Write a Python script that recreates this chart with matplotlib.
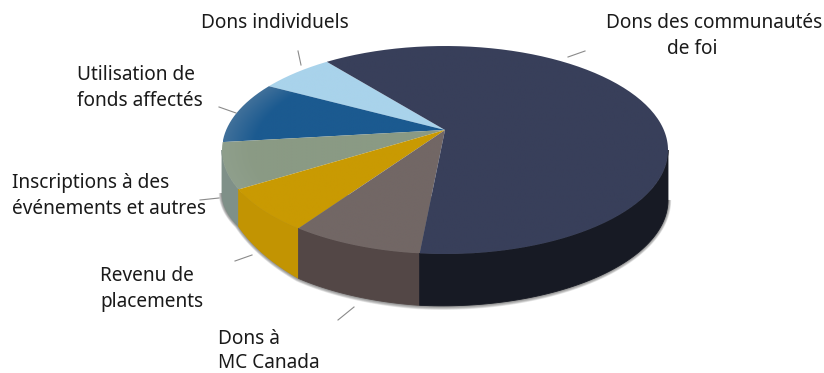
import numpy as np
from matplotlib import pyplot as plt
from matplotlib.patches import PathPatch
from matplotlib.path import Path

plt.rcParams["font.family"] = ["Noto Sans", "DejaVu Sans"]

# share of revenue, in pie order (counter-clockwise from the first slice)
CATEGORIES = [
    "Dons individuels",
    "Utilisation de fonds affectés",
    "Inscriptions à des événements et autres",
    "Revenu de placements",
    "Dons à MC Canada",
    "Dons des communautés de foi",
]
VALUES = [5.6, 9.3, 7.4, 7.4, 9.6, 60.7]
TOP_COLORS = ["#a9d3eb", "#1b5a90", "#8a9a84", "#c99a02", "#726765", "#383f5a"]
RIM_COLORS = ["#a9d3eb", "#40709a", "#8f9f8c", "#c99a02", "#726765", "#383f5a"]
SIDE_COLORS = ["#a9d3eb", "#1b5a90", "#7f9088", "#c29402", "#534746", "#171a24"]

CX, CY = 445, 150
RX, RY = 223, 104
APEX_Y = 130
START = 122
# wall height around the front of the disc, shorter on the left for perspective
DEPTH_ANGLES = [180, 202, 229, 263, 360]
DEPTH_PX = [43, 37, 50, 52, 50]


def hex_rgb(color):
    return np.array([int(color[i : i + 2], 16) / 255 for i in (1, 3, 5)])


def wall_depth(angles):
    return np.interp(angles, DEPTH_ANGLES, DEPTH_PX)


def rim(angles, drop=0):
    rad = np.radians(angles)
    return CX + RX * np.cos(rad), CY - RY * np.sin(rad) + drop


def gradient_patch(ax, xs, ys, inner, outer):
    # fill a polygon with a colour ramp running out towards the rim
    patch = PathPatch(
        Path(np.column_stack([xs, ys])), facecolor="none", edgecolor="none"
    )
    ax.add_patch(patch)
    gx, gy = np.meshgrid(
        np.linspace(xs.min(), xs.max(), 200), np.linspace(ys.min(), ys.max(), 200)
    )
    dist = np.hypot((gx - CX) / RX, (gy - CY) / RY)
    t = np.clip((dist - 0.86) / 0.14, 0, 1)[..., None]
    img = hex_rgb(inner) * (1 - t) + hex_rgb(outer) * t
    im = ax.imshow(
        img,
        extent=(xs.min(), xs.max(), ys.max(), ys.min()),
        aspect="auto",
        interpolation="bilinear",
        zorder=3,
    )
    im.set_clip_path(patch)


def draw_pie(ax):
    edges = START + np.concatenate([[0], np.cumsum(VALUES)]) * 3.6

    # soft shadow around the lower silhouette
    angles = np.linspace(180, 360, 200)
    for spread in np.linspace(4, 0.5, 8):
        rad = np.radians(angles)
        sx = CX + (RX + spread * 0.8) * np.cos(rad)
        sy = CY + wall_depth(angles) - (RY + spread) * np.sin(rad)
        ax.fill(sx, sy, color="#555555", alpha=0.12, lw=0, zorder=1)

    # side wall, front half only
    for i, side in enumerate(SIDE_COLORS):
        a0, a1 = edges[i], edges[i + 1]
        for lo, hi in [(a0, a1), (a0 - 360, a1 - 360)]:
            lo, hi = max(lo, 180), min(hi, 360)
            if hi <= lo:
                continue
            t = np.linspace(lo, hi, 80)
            x, y = rim(t)
            xb, yb = rim(t[::-1], wall_depth(t[::-1]))
            ax.fill(
                np.concatenate([x, xb]),
                np.concatenate([y, yb]),
                color=side,
                lw=0.6,
                zorder=2,
            )

    # top face
    for i, (top, outer) in enumerate(zip(TOP_COLORS, RIM_COLORS)):
        t = np.linspace(edges[i], edges[i + 1], 160)
        x, y = rim(t)
        xs = np.concatenate([[CX], x, [CX]])
        ys = np.concatenate([[APEX_Y], y, [APEX_Y]])
        gradient_patch(ax, xs, ys, top, outer)


def draw_labels(ax):
    text = dict(fontsize=13.7, color="#1a1a1a", va="baseline", zorder=5)
    ax.text(201, 28, "Dons individuels", **text)
    ax.text(606, 28, "Dons des communautés", **text)
    ax.text(667, 54, "de foi", **text)
    ax.text(77, 80, "Utilisation de", **text)
    ax.text(77, 106, "fonds affectés", **text)
    ax.text(12, 188, "Inscriptions à des", **text)
    ax.text(12, 214, "événements et autres", **text)
    ax.text(100, 281, "Revenu de", **text)
    ax.text(100, 307, "placements", **text)
    ax.text(218, 344, "Dons à", **text)
    ax.text(218, 368, "MC Canada", **text)

    leaders = [
        ((298, 301), (51, 65)),
        ((219, 236), (107, 113)),
        ((200, 219), (200, 198)),
        ((235, 252), (261, 255)),
        ((338, 354), (320, 307)),
        ((568, 585), (57, 51)),
    ]
    for lx, ly in leaders:
        ax.plot(lx, ly, color="#8a8a8a", lw=0.8, zorder=4)


fig = plt.figure(figsize=(8.24, 3.73), dpi=100)
ax = fig.add_axes([0, 0, 1, 1])
draw_pie(ax)
draw_labels(ax)
ax.set_xlim(0, 824)
ax.set_ylim(373, 0)
ax.axis("off")
fig.savefig("out.png", dpi=100)
plt.close(fig)
